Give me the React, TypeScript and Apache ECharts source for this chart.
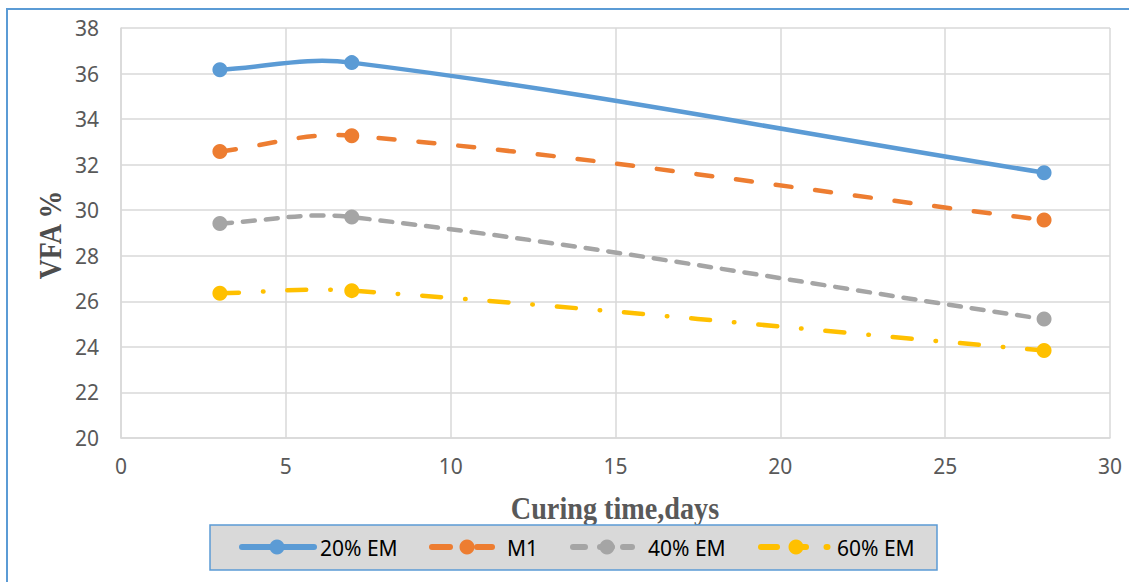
import React, { useEffect, useRef } from "react";
import * as echarts from "echarts";

const days = [3, 7, 28];
const em20 = [36.17, 36.48, 31.65];
const m1 = [32.58, 33.27, 29.57];
const em40 = [29.42, 29.7, 25.22];
const em60 = [26.35, 26.47, 23.84];
const seriesNames = ["20% EM", "M1", "40% EM", "60% EM"];
const xTicks = [0, 5, 10, 15, 20, 25, 30];
const yTicks = [20, 22, 24, 26, 28, 30, 32, 34, 36, 38];
const xTitle = "Curing time,days";
const yTitle = "VFA %";

const colors = ["#5b9bd5", "#ed7d31", "#a5a5a5", "#ffc000"];
const dashes: any[] = [null, [16, 24], [12, 11], [19, 24, 0.5, 24]];

// legend layout (pixels)
const legendY = 547;
const legendIcons = [
  { segs: [[242, 314]], dot: 277, text: 320 },
  { segs: [[432, 450], [477, 492]], dot: 467, text: 507 },
  { segs: [[573, 585], [600, 612], [623, 632]], dot: 607, text: 648 },
  { segs: [[761, 777], [795, 806], [826.5, 827.5]], dot: 796, text: 837 },
];

function smoothPath(pts: number[][], s: number) {
  const n = pts.length;
  const tan = pts.map((p, i) => {
    const a = pts[Math.max(0, i - 1)];
    const b = pts[Math.min(n - 1, i + 1)];
    const dx = b[0] - a[0];
    const dy = b[1] - a[1];
    const l = Math.hypot(dx, dy) || 1;
    return [dx / l, dy / l];
  });
  let d = `M${pts[0][0]},${pts[0][1]}`;
  for (let i = 0; i < n - 1; i++) {
    const p = pts[i];
    const q = pts[i + 1];
    const len = Math.hypot(q[0] - p[0], q[1] - p[1]) * s;
    const c1 = [p[0] + tan[i][0] * len, p[1] + tan[i][1] * len];
    const c2 = [q[0] - tan[i + 1][0] * len, q[1] - tan[i + 1][1] * len];
    d += ` C${c1[0]},${c1[1]} ${c2[0]},${c2[1]} ${q[0]},${q[1]}`;
  }
  return d;
}

export default function App() {
  const ref = useRef<HTMLDivElement>(null);
  useEffect(() => {
    if (!ref.current) return;
    const chart = echarts.init(ref.current, null, { renderer: "svg" });
    const all = [em20, m1, em40, em60];
    const lineSeries = all.map((vals, i) => {
      const data = days.map((d, j) => [d, vals[j]]);
      return {
        name: seriesNames[i] + " line",
        type: "custom",
        data,
        z: 2,
        renderItem: (params: any, api: any) => {
          if (params.dataIndex !== 0) return null;
          const pts = data.map((p) => api.coord(p));
          return {
            type: "path",
            shape: { pathData: smoothPath(pts, 0.36) },
            style: {
              fill: "none",
              stroke: colors[i],
              lineWidth: 4.5,
              lineCap: "round",
              lineJoin: "round",
              lineDash: dashes[i] || undefined,
            },
          };
        },
      };
    });
    const markerSeries = all.map((vals, i) => ({
      name: seriesNames[i],
      type: "scatter",
      data: days.map((d, j) => [d, vals[j]]),
      symbol: "circle",
      symbolSize: 15,
      z: 3,
      itemStyle: { color: colors[i], opacity: 1 },
    }));

    const legendEls: any[] = [
      {
        type: "rect",
        shape: { x: 210, y: 525, width: 727, height: 45 },
        style: { fill: "#d9d9d9", stroke: "#5b9bd5", lineWidth: 1.5 },
        silent: true,
      },
    ];
    legendIcons.forEach((it, i) => {
      it.segs.forEach((sg) => {
        legendEls.push({
          type: "line",
          shape: { x1: sg[0], y1: legendY, x2: sg[1], y2: legendY },
          style: { stroke: colors[i], lineWidth: 6, lineCap: "round" },
          silent: true,
        });
      });
      legendEls.push({
        type: "circle",
        shape: { cx: it.dot, cy: legendY, r: 7.5 },
        style: { fill: colors[i] },
        silent: true,
      });
      legendEls.push({
        type: "text",
        x: it.text,
        y: legendY + 1,
        style: {
          text: seriesNames[i],
          fontFamily: "Noto Sans",
          fontSize: 21,
          fill: "#000000",
          align: "left",
          verticalAlign: "middle",
        },
        silent: true,
      });
    });

    chart.setOption({
      animation: false,
      backgroundColor: "#ffffff",
      grid: { left: 121, right: 19, top: 28, bottom: 144 },
      xAxis: {
        type: "value",
        min: xTicks[0],
        max: xTicks[xTicks.length - 1],
        interval: 5,
        axisLine: { lineStyle: { color: "#d9d9d9", width: 1.5 } },
        axisTick: { show: false },
        axisLabel: { fontFamily: "Noto Sans", fontSize: 21, color: "#595959", margin: 17 },
        splitLine: { show: true, lineStyle: { color: "#d9d9d9", width: 1.5 } },
      },
      yAxis: {
        type: "value",
        min: yTicks[0],
        max: yTicks[yTicks.length - 1],
        interval: 2,
        axisLine: { show: true, lineStyle: { color: "#d9d9d9", width: 1.5 } },
        axisTick: { show: false },
        axisLabel: { fontFamily: "Noto Sans", fontSize: 21, color: "#595959", margin: 22 },
        splitLine: { show: true, lineStyle: { color: "#d9d9d9", width: 1.5 } },
      },
      graphic: [
        {
          type: "rect",
          shape: { x: 7, y: 9, width: 1200, height: 700 },
          style: { fill: "none", stroke: "#5b9bd5", lineWidth: 2 },
          silent: true,
          z: -10,
        },
        {
          type: "text",
          x: 615,
          y: 509,
          scaleX: 0.91,
          style: {
            text: xTitle,
            fontFamily: "Liberation Serif",
            fontWeight: "bold",
            fontSize: 31,
            fill: "#595959",
            align: "center",
            verticalAlign: "middle",
          },
          silent: true,
        },
        {
          type: "text",
          x: 50,
          y: 235,
          rotation: Math.PI / 2,
          scaleX: 0.9,
          style: {
            text: yTitle,
            fontFamily: "Liberation Serif",
            fontWeight: "bold",
            fontSize: 31,
            fill: "#4d4d4d",
            align: "center",
            verticalAlign: "middle",
          },
          silent: true,
        },
        ...legendEls,
      ],
      series: [...lineSeries, ...markerSeries],
    });
    return () => chart.dispose();
  }, []);
  return (
    <div
      ref={ref}
      style={{ position: "fixed", left: 0, top: 0, width: 1129, height: 582 }}
    />
  );
}
